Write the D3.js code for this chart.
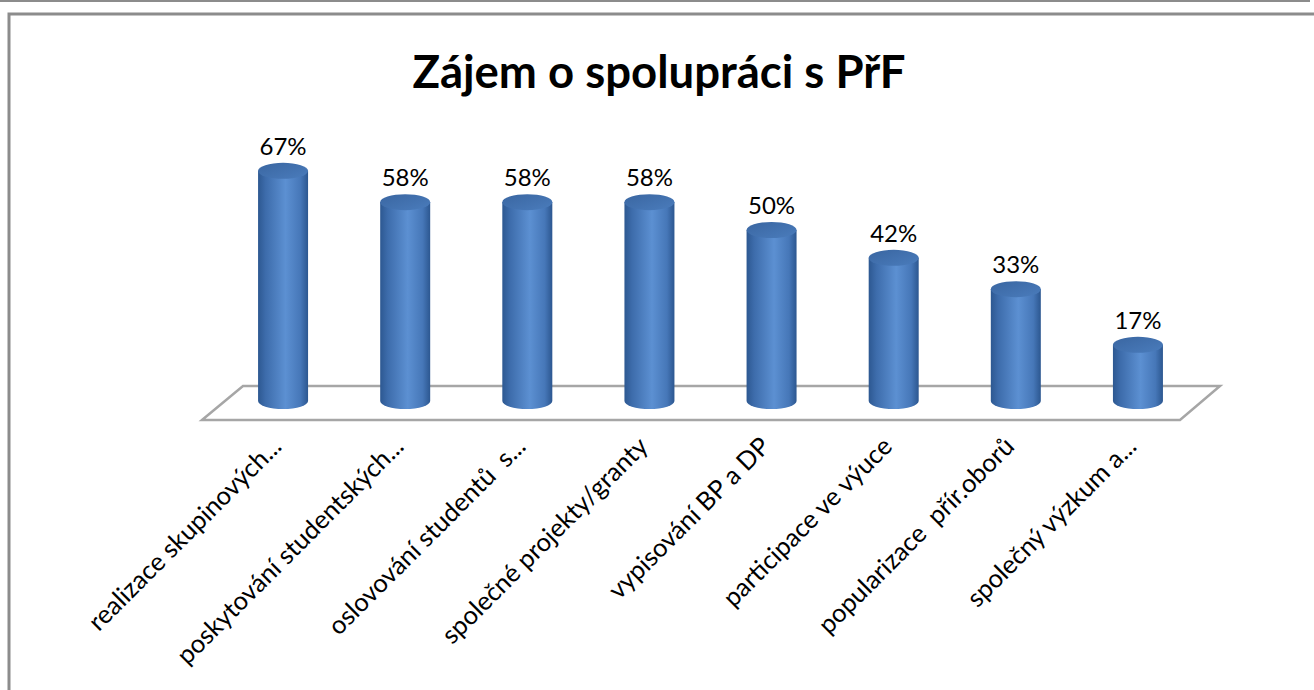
<!DOCTYPE html>
<html>
<head>
<meta charset="utf-8">
<script src="https://cdn.jsdelivr.net/npm/d3@7"></script>
<style>
  body { margin: 0; background: #fff; }
  svg { display: block; }
</style>
</head>
<body>
<svg id="chart"></svg>
<script>
// chart data
const title = "Zájem o spolupráci s PřF";
const categories = [
    "realizace skupinových...",
    "poskytování studentských...",
    "oslovování studentů  s...",
    "společné projekty/granty",
    "vypisování BP a DP",
    "participace ve výuce",
    "popularizace  přír.oborů",
    "společný výzkum a..."
];
const values = [67, 58, 58, 58, 50, 42, 33, 17];

const W = 1314, H = 690;
const svg = d3.select("#chart").attr("width", W).attr("height", H);

// frame lines
svg.append("line").attr("x1", 0).attr("x2", 1310).attr("y1", 1).attr("y2", 1)
    .attr("stroke", "#8c8c8c").attr("stroke-width", 2);
svg.append("path").attr("d", "M9,690 L9,14 L1314,14")
    .attr("fill", "none").attr("stroke", "#8c8c8c").attr("stroke-width", 3);

// title
svg.append("text")
    .attr("x", 659).attr("y", 88)
    .attr("text-anchor", "middle")
    .style("font-family", "Lato, 'Open Sans', sans-serif")
    .style("font-weight", "bold")
    .style("font-size", "45.5px")
    .attr("fill", "#000")
    .text(title);

// scales
let xScale = d3.scalePoint()
    .domain(categories)
    .range([222, 1199])
    .padding(0.5);

let yScale = d3.scaleLinear()
    .domain([0, 100])
    .range([404, 56]);

const barW = 50, rx = barW / 2, ry = 8, baseY = 401;

// floor
const [r0, r1] = xScale.range();
const floorPts = [[r0 - 20, 420], [r0 + 21, 386], [r1 + 21, 386], [r1 - 19, 420]];
svg.append("path")
    .attr("d", d3.line()(floorPts) + "Z")
    .attr("fill", "#fff")
    .attr("stroke", "#a6a6a6")
    .attr("stroke-width", 2.5);

// gradients
const defs = svg.append("defs");
const sideGrad = defs.append("linearGradient").attr("id", "side")
    .attr("x1", "0%").attr("x2", "100%").attr("y1", "0%").attr("y2", "0%");
sideGrad.append("stop").attr("offset", "0%").attr("stop-color", "#2d5891");
sideGrad.append("stop").attr("offset", "15%").attr("stop-color", "#3d6cab");
sideGrad.append("stop").attr("offset", "55%").attr("stop-color", "#5c90d2");
sideGrad.append("stop").attr("offset", "85%").attr("stop-color", "#4677b8");
sideGrad.append("stop").attr("offset", "100%").attr("stop-color", "#2c5790");

const capGrad = defs.append("linearGradient").attr("id", "capg")
    .attr("x1", "0%").attr("x2", "100%").attr("y1", "0%").attr("y2", "100%");
capGrad.append("stop").attr("offset", "0%").attr("stop-color", "#3a66a1");
capGrad.append("stop").attr("offset", "100%").attr("stop-color", "#4a7cbc");

const data = categories.map((c, i) => ({ cat: c, v: values[i] }));

let bars = svg.selectAll("g.bar")
    .data(data)
    .enter()
    .append("g")
    .attr("class", "bar");

// body with bottom rounding
bars.append("path")
    .attr("d", d => {
        let cx = xScale(d.cat), yt = yScale(d.v);
        return "M" + (cx - rx) + "," + yt +
            " L" + (cx - rx) + "," + baseY +
            " A" + rx + "," + ry + " 0 0 0 " + (cx + rx) + "," + baseY +
            " L" + (cx + rx) + "," + yt + " Z";
    })
    .attr("fill", "url(#side)");

// top cap
bars.append("ellipse")
    .attr("cx", d => xScale(d.cat))
    .attr("cy", d => yScale(d.v))
    .attr("rx", rx)
    .attr("ry", ry)
    .attr("fill", "url(#capg)");

// value labels
bars.append("text")
    .attr("x", d => xScale(d.cat))
    .attr("y", d => yScale(d.v) - 16)
    .attr("text-anchor", "middle")
    .style("font-family", "Lato, 'Open Sans', sans-serif")
    .style("font-size", "24px")
    .attr("fill", "#000")
    .text(d => d.v + "%");

// category labels (keep the double spaces)
svg.selectAll("text.cat")
    .data(categories)
    .enter()
    .append("text")
    .attr("class", "cat")
    .attr("text-anchor", "end")
    .attr("transform", d => "translate(" + xScale(d) + ",448) rotate(-45)")
    .style("font-family", "Lato, 'Open Sans', sans-serif")
    .style("font-size", "25.5px")
    .style("white-space", "pre")
    .attr("fill", "#000")
    .text(d => d);
</script>
</body>
</html>
